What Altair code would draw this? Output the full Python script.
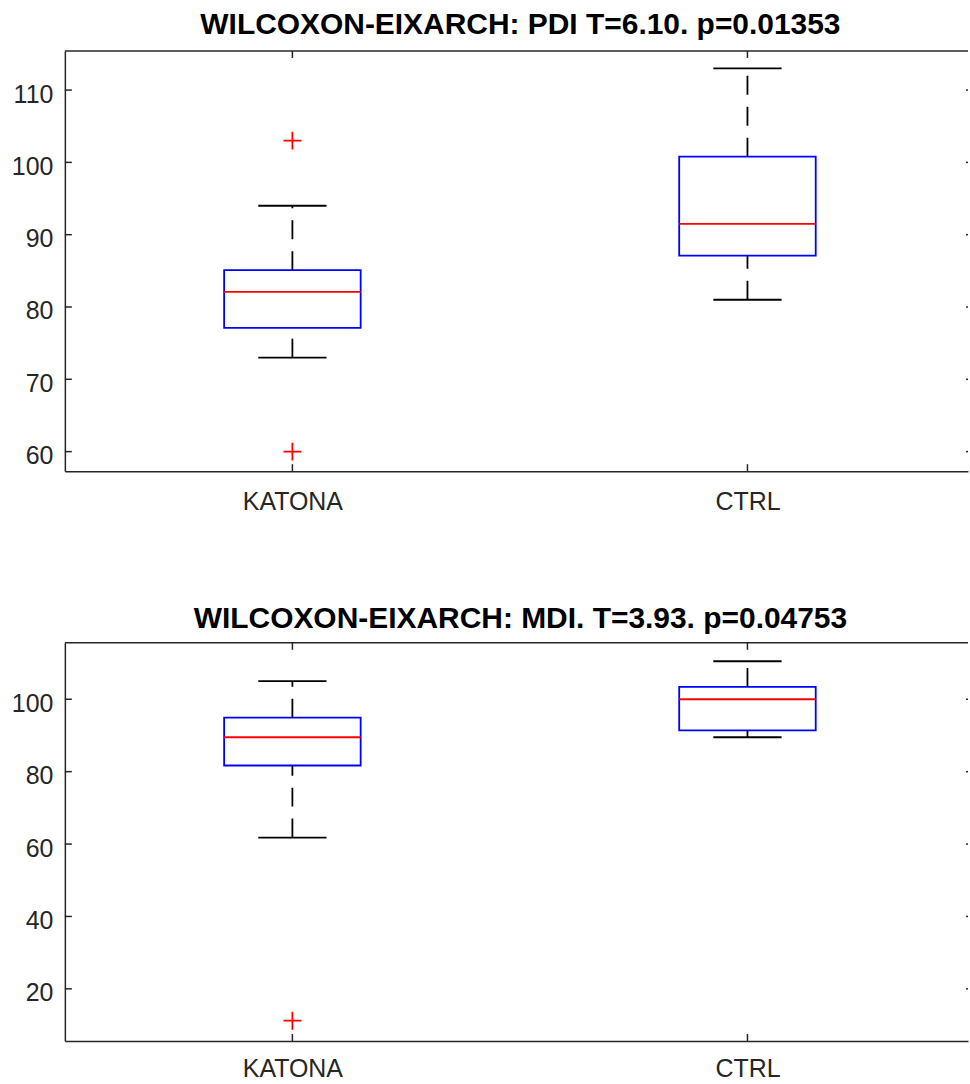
import json

import altair as alt
import pandas as pd

# ---- data -------------------------------------------------------------
groups = ["KATONA", "CTRL"]

# PDI: whisker ends, quartiles, medians and outliers per group
pdi_lower_whisker = [73.0, 81.0]
pdi_q1 = [77.1, 87.1]
pdi_median = [82.1, 91.5]
pdi_q3 = [85.1, 100.8]
pdi_upper_whisker = [94.0, 113.0]
pdi_outlier_group = ["KATONA", "KATONA"]
pdi_outliers = [103.0, 60.0]
pdi_ticks = [60, 70, 80, 90, 100, 110]

# MDI
mdi_lower_whisker = [61.8, 89.5]
mdi_q1 = [81.7, 91.4]
mdi_median = [89.5, 100.0]
mdi_q3 = [94.9, 103.4]
mdi_upper_whisker = [105.0, 110.5]
mdi_outlier_group = ["KATONA"]
mdi_outliers = [11.2]
mdi_ticks = [20, 40, 60, 80, 100]

# ---- style ------------------------------------------------------------
FONT = "Liberation Sans"
AX = "#262626"
BLUE = "#0000FF"
RED = "#FF0000"
LW = 1.8
W = 905                        # visible part of the plot area
PX_PER_UNIT = 456.0
X_DOMAIN = [0.5, 0.5 + W / PX_PER_UNIT]   # x-limits start at 0.5, right edge cut off
BOX_HALF = 0.15
CAP_HALF = 0.075
TICK_LEN = 7
TITLE_SIZE = 30

PLUS = "M-1,0L1,0M0,-1L0,1"


def panel(title, lo, q1, med, q3, hi, out_grp, out_vals, y_domain, y_ticks,
          height, title_gap, label_pad):
    pos = list(range(1, len(groups) + 1))
    xs = alt.Scale(domain=X_DOMAIN, nice=False, zero=False)
    ys = alt.Scale(domain=y_domain, nice=False, zero=False)

    box = pd.DataFrame({"pos": pos, "q1": q1, "med": med, "q3": q3})
    box["xl"] = box["pos"] - BOX_HALF
    box["xr"] = box["pos"] + BOX_HALF

    whisk = pd.concat([
        pd.DataFrame({"pos": pos, "y_from": lo, "y_to": q1}),
        pd.DataFrame({"pos": pos, "y_from": q3, "y_to": hi}),
    ], ignore_index=True)

    caps = pd.concat([
        pd.DataFrame({"pos": pos, "y": lo}),
        pd.DataFrame({"pos": pos, "y": hi}),
    ], ignore_index=True)
    caps["xl"] = caps["pos"] - CAP_HALF
    caps["xr"] = caps["pos"] + CAP_HALF

    outl = pd.DataFrame({"pos": [groups.index(g) + 1 for g in out_grp],
                         "y": out_vals})
    ytick = pd.DataFrame({"y": y_ticks})
    xtick = pd.DataFrame({"pos": pos})
    one = pd.DataFrame({"k": [0]})

    label_expr = f"{json.dumps(groups)}[datum.value - 1]"
    x_axis = alt.Axis(values=pos, labelExpr=label_expr, title=None, grid=False,
                      ticks=False, tickSize=0, domainColor=AX, domainWidth=1.5,
                      labelFont=FONT, labelFontSize=25, labelColor=AX,
                      labelPadding=label_pad, labelAngle=0)
    y_axis = alt.Axis(values=y_ticks, title=None, grid=False, ticks=False,
                      tickSize=0, domainColor=AX, domainWidth=1.5,
                      labelFont=FONT, labelFontSize=25, labelColor=AX,
                      labelPadding=12, labelBaseline="middle", labelOffset=4)

    boxes = alt.Chart(box).mark_rect(fillOpacity=0, stroke=BLUE, strokeWidth=LW).encode(
        x=alt.X("xl:Q", scale=xs, axis=x_axis), x2="xr:Q",
        y=alt.Y("q1:Q", scale=ys, axis=y_axis), y2="q3:Q")
    medians = alt.Chart(box).mark_rule(color=RED, strokeWidth=LW).encode(
        x=alt.X("xl:Q", scale=xs), x2="xr:Q", y=alt.Y("med:Q", scale=ys))
    whiskers = alt.Chart(whisk).mark_rule(color="black", strokeWidth=LW,
                                          strokeDash=[19, 12]).encode(
        x=alt.X("pos:Q", scale=xs), y=alt.Y("y_from:Q", scale=ys), y2="y_to:Q")
    cap_marks = alt.Chart(caps).mark_rule(color="black", strokeWidth=LW).encode(
        x=alt.X("xl:Q", scale=xs), x2="xr:Q", y=alt.Y("y:Q", scale=ys))
    outliers = alt.Chart(outl).mark_point(shape=PLUS, filled=False, stroke=RED,
                                          strokeWidth=LW, size=320, opacity=1).encode(
        x=alt.X("pos:Q", scale=xs), y=alt.Y("y:Q", scale=ys))

    # box outline: top edge and inward-pointing ticks; the right side sits
    # just past the visible area, so only the tips of its ticks show
    top_edge = alt.Chart(one).mark_rule(color=AX, strokeWidth=1.5).encode(
        x=alt.value(0), x2=alt.value(W), y=alt.value(0))
    ticks_left = alt.Chart(ytick).mark_rule(color=AX, strokeWidth=1.5).encode(
        x=alt.value(0), x2=alt.value(TICK_LEN), y=alt.Y("y:Q", scale=ys))
    ticks_right = alt.Chart(ytick).mark_rule(color=AX, strokeWidth=1.5).encode(
        x=alt.value(W - 2), x2=alt.value(W), y=alt.Y("y:Q", scale=ys))
    ticks_bottom = alt.Chart(xtick).mark_rule(color=AX, strokeWidth=1.5).encode(
        x=alt.X("pos:Q", scale=xs), y=alt.value(height), y2=alt.value(height - TICK_LEN))
    ticks_top = alt.Chart(xtick).mark_rule(color=AX, strokeWidth=1.5).encode(
        x=alt.X("pos:Q", scale=xs), y=alt.value(0), y2=alt.value(TICK_LEN))

    return alt.layer(
        boxes, medians, whiskers, cap_marks, outliers,
        top_edge, ticks_left, ticks_right, ticks_bottom, ticks_top,
    ).properties(
        width=W, height=height,
        # the alphabetic title sits one font size above its offset,
        # so subtract it to keep the baseline title_gap above the plot
        title=alt.TitleParams(text=title, font=FONT, fontSize=TITLE_SIZE,
                              fontWeight="bold", color="#000000",
                              anchor="middle", offset=title_gap - TITLE_SIZE,
                              dx=4, baseline="alphabetic"),
    )


p1 = panel("WILCOXON-EIXARCH: PDI T=6.10. p=0.01353",
           pdi_lower_whisker, pdi_q1, pdi_median, pdi_q3, pdi_upper_whisker,
           pdi_outlier_group, pdi_outliers, [57.3, 115.4], pdi_ticks, 421, 16, 18)
p2 = panel("WILCOXON-EIXARCH: MDI. T=3.93. p=0.04753",
           mdi_lower_whisker, mdi_q1, mdi_median, mdi_q3, mdi_upper_whisker,
           mdi_outlier_group, mdi_outliers, [5.6, 115.6], mdi_ticks, 399, 14, 16)

chart = alt.vconcat(p1, p2, spacing=172, bounds="flush").properties(
    padding={"left": 10, "top": 8, "right": 0, "bottom": 0},
    background="white",
).configure_view(stroke="transparent")

chart.save("out.html", embed_options={"renderer": "svg", "actions": False})
